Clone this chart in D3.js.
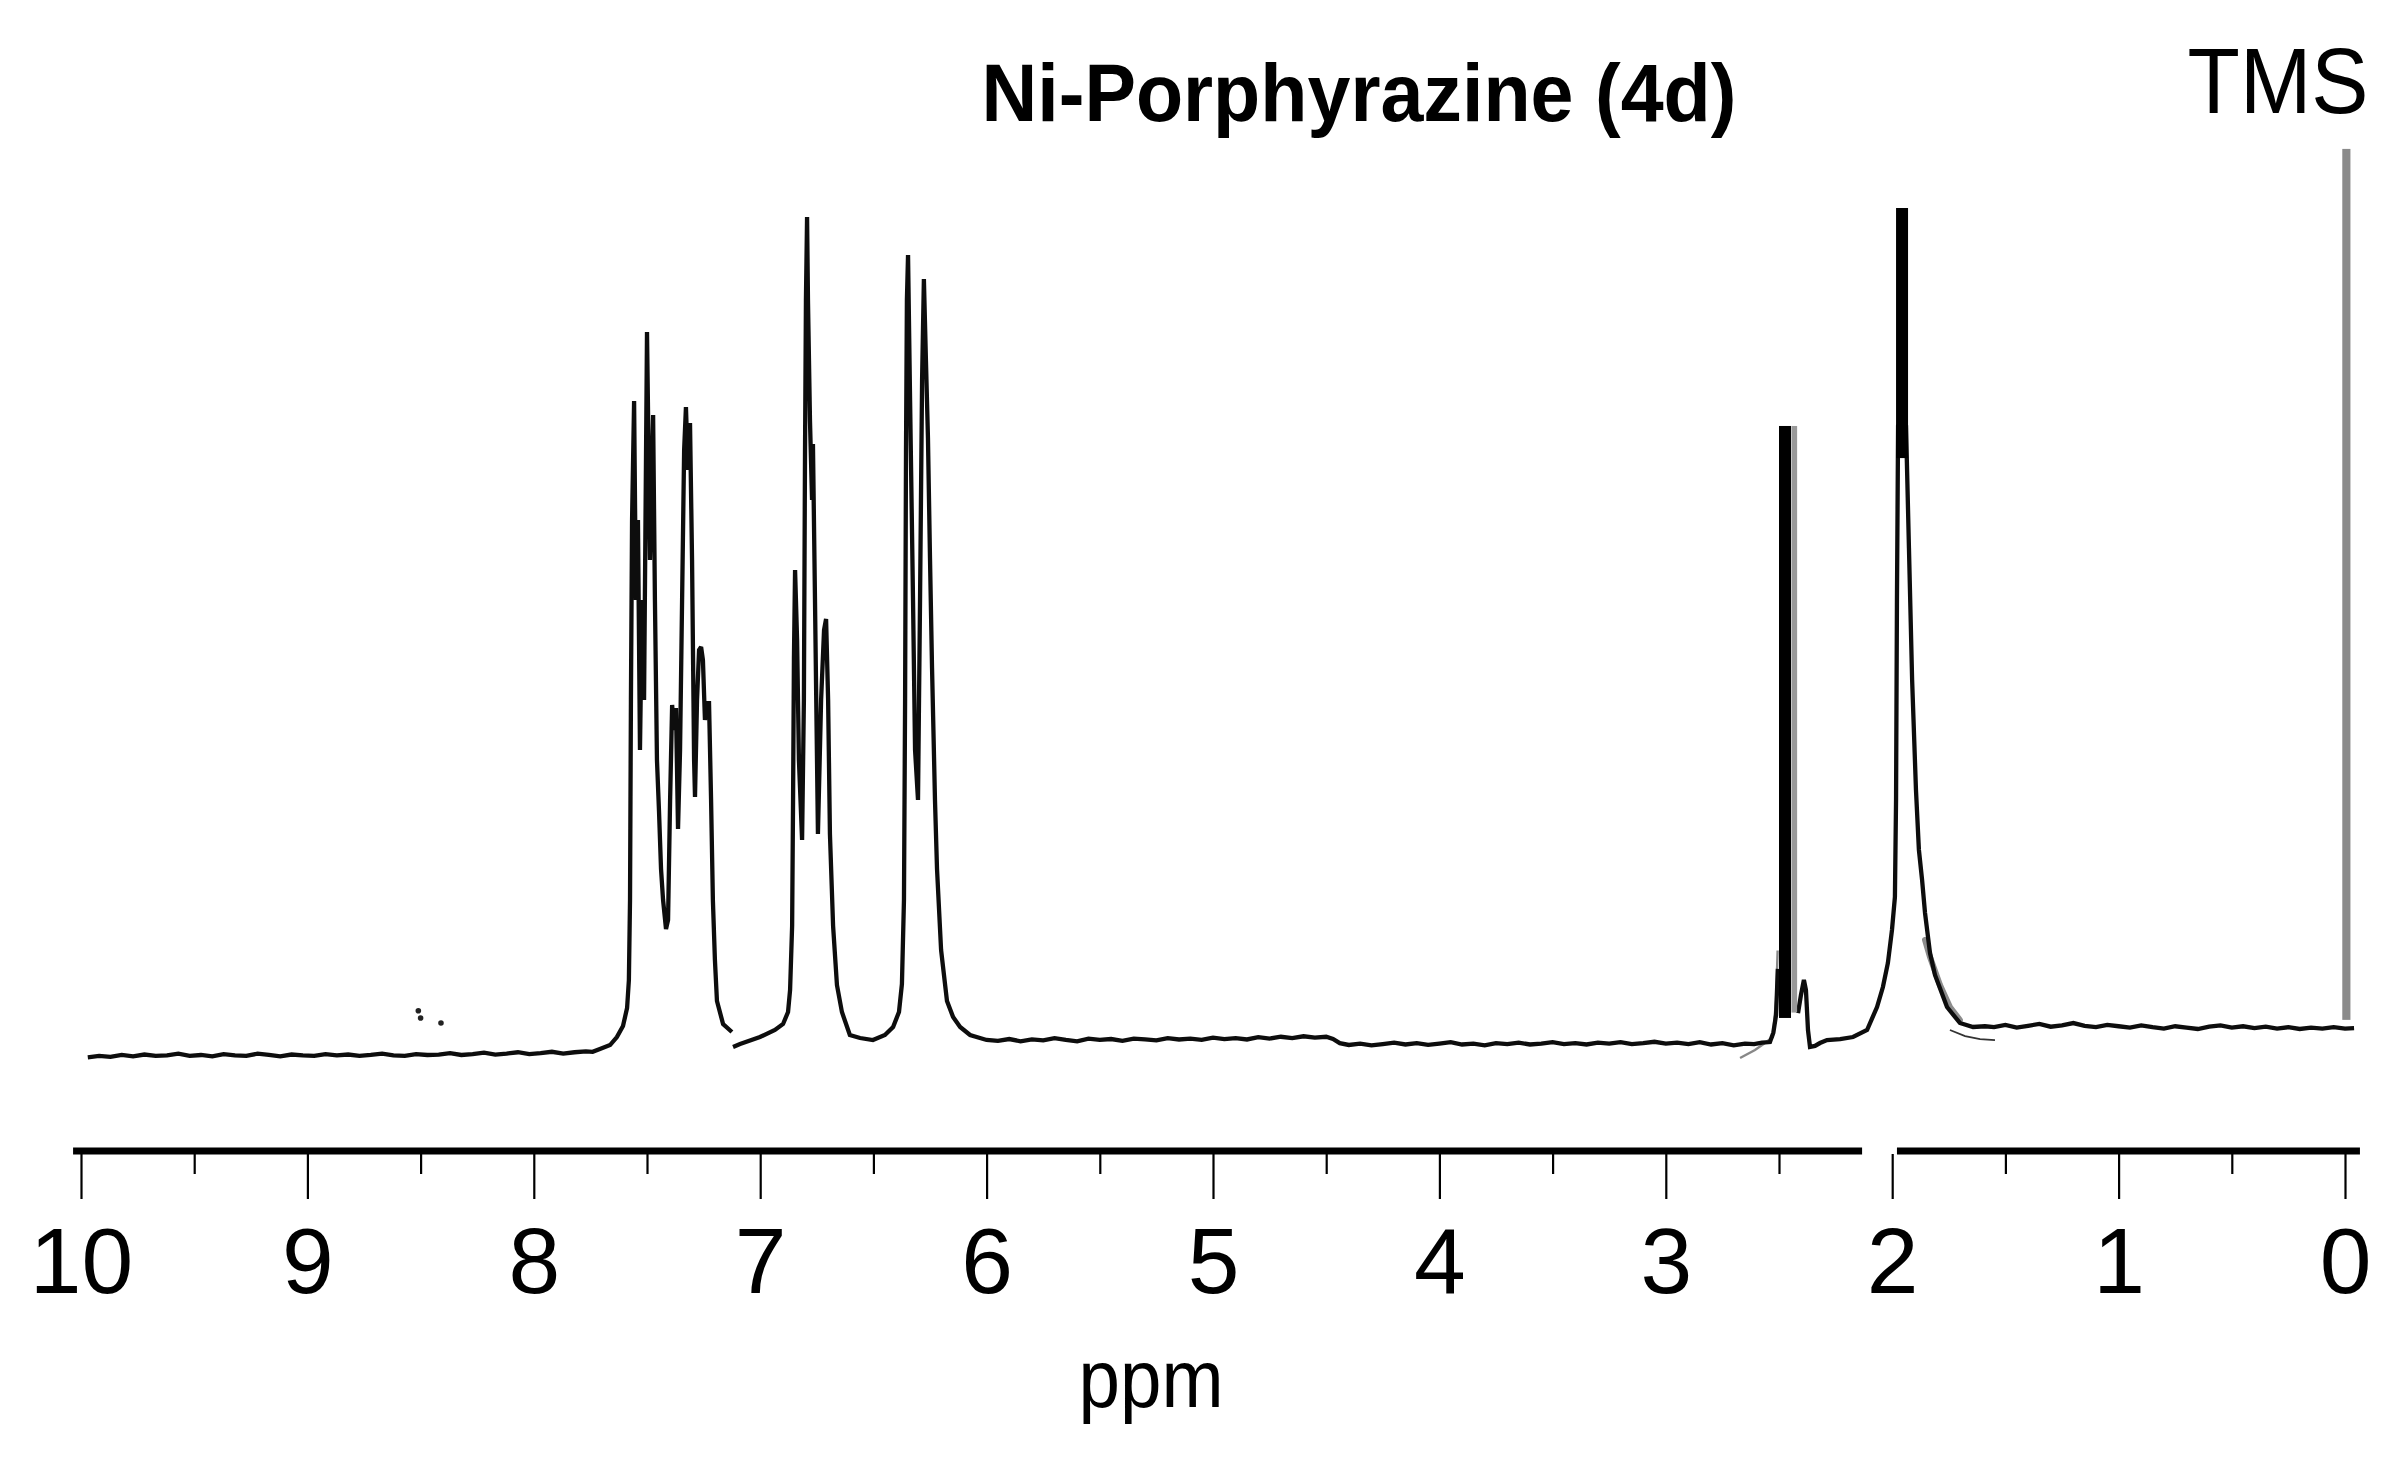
<!DOCTYPE html>
<html><head><meta charset="utf-8">
<script src="https://cdn.jsdelivr.net/npm/d3@7"></script>
<style>html,body{margin:0;padding:0;background:#fff;} svg{display:block;}</style>
</head><body>
<svg id="chart" width="2400" height="1472"></svg>
<script>
// ---------------- DATA (ppm, relative intensity %) ----------------
const titleText = "Ni-Porphyrazine (4d)";
const referenceLabel = "TMS";
const axisLabel = "ppm";
const majorTicks = [10, 9, 8, 7, 6, 5, 4, 3, 2, 1, 0];
const minorTicks = [9.5, 8.5, 7.5, 6.5, 5.5, 4.5, 3.5, 2.5, 1.5, 0.5];
const axisSegments = [[10.035, 2.133], [1.979, -0.066]];

const baselineLow = [
  [9.97,0.30],[9.92,0.45],[9.87,0.35],[9.82,0.55],[9.77,0.40],[9.72,0.60],[9.67,0.45],[9.62,0.50],
  [9.57,0.70],[9.52,0.45],[9.47,0.55],[9.42,0.40],[9.37,0.65],[9.32,0.50],[9.27,0.45],[9.22,0.70],
  [9.17,0.55],[9.12,0.40],[9.07,0.60],[9.02,0.50],[8.97,0.45],[8.92,0.65],[8.87,0.50],[8.82,0.60],
  [8.77,0.45],[8.72,0.55],[8.67,0.70],[8.62,0.50],[8.57,0.45],[8.52,0.65],[8.47,0.55],[8.42,0.60],
  [8.37,0.75],[8.32,0.55],[8.27,0.65],[8.22,0.80],[8.17,0.60],[8.12,0.70],[8.07,0.85],[8.02,0.65],
  [7.97,0.75],[7.92,0.90],[7.87,0.70],[7.82,0.85],[7.77,0.95],[7.74,0.90]
];

const aromaticA = [
  [7.708,1.21],[7.663,1.64],[7.633,2.52],[7.606,3.73],[7.588,5.70],[7.580,8.77],[7.575,17.54],
  [7.571,39.47],[7.566,59.21],[7.557,72.26],[7.549,50.44],[7.540,59.21],[7.531,33.99],[7.522,50.44],
  [7.513,39.47],[7.500,79.82],[7.487,54.82],[7.473,70.72],[7.465,50.44],[7.456,32.89],[7.447,27.30],
  [7.438,20.94],[7.429,17.54],[7.416,14.36],[7.407,15.35],[7.398,28.51],[7.389,38.93],[7.381,36.18],
  [7.372,38.60],[7.363,25.33],[7.354,33.99],[7.345,50.44],[7.336,66.89],[7.328,71.60],[7.319,64.69],
  [7.310,69.85],[7.301,54.82],[7.292,32.89],[7.288,28.84],[7.279,39.47],[7.270,44.96],[7.261,45.29],
  [7.253,43.86],[7.244,37.28],[7.235,39.14],[7.226,39.14],[7.217,28.51],[7.209,17.54],[7.200,10.96],
  [7.191,6.47],[7.164,3.95],[7.125,3.07]
];

const aromaticB = [
  [7.120,1.43],[7.089,1.75],[7.001,2.52],[6.935,3.29],[6.899,3.95],[6.877,5.26],[6.868,7.68],
  [6.859,14.69],[6.855,28.0],[6.851,44.0],[6.846,53.73],[6.837,46.0],[6.829,32.89],[6.815,24.12],
  [6.807,39.47],[6.802,66.89],[6.798,83.33],[6.793,92.43],[6.789,83.33],[6.780,70.0],[6.771,61.40],
  [6.767,67.54],[6.758,50.44],[6.745,24.78],[6.731,39.47],[6.718,47.15],[6.709,48.36],[6.700,39.47],
  [6.692,24.78],[6.678,14.69],[6.661,8.22],[6.639,5.26],[6.604,2.74],[6.559,2.41],[6.502,2.19],
  [6.449,2.74],[6.413,3.62],[6.387,5.26],[6.374,8.33],[6.365,17.54],[6.360,39.47],[6.356,66.89],
  [6.352,83.33],[6.347,88.27],[6.338,72.37],[6.325,50.44],[6.316,33.99],[6.303,28.51],[6.294,50.44],
  [6.285,74.56],[6.277,85.64],[6.268,76.75],[6.259,68.20],[6.250,55.0],[6.241,42.98],[6.228,28.51],
  [6.219,20.94],[6.201,12.06],[6.175,6.47],[6.148,4.71],[6.117,3.62],[6.073,2.74],[6.00,2.20]
];

const midBaseline = [
  [5.95,2.10],[5.90,2.30],[5.85,2.05],[5.80,2.25],[5.75,2.15],[5.70,2.40],[5.65,2.20],[5.60,2.05],
  [5.55,2.35],[5.50,2.20],[5.45,2.30],[5.40,2.10],[5.35,2.35],[5.30,2.25],[5.25,2.15],[5.20,2.40],
  [5.15,2.25],[5.10,2.35],[5.05,2.20],[5.00,2.45],[4.95,2.30],[4.90,2.40],[4.85,2.25],[4.80,2.50],
  [4.75,2.35],[4.70,2.55],[4.65,2.40],[4.60,2.60],[4.55,2.45],[4.50,2.55],[4.47,2.30],[4.44,1.85],
  [4.40,1.65],[4.35,1.80],[4.30,1.60],[4.25,1.75],[4.20,1.90],[4.15,1.70],[4.10,1.85],[4.05,1.65],
  [4.00,1.80],[3.95,1.95],[3.90,1.70],[3.85,1.80],[3.80,1.60],[3.75,1.85],[3.70,1.75],[3.65,1.90],
  [3.60,1.70],[3.55,1.80],[3.50,1.95],[3.45,1.75],[3.40,1.85],[3.35,1.70],[3.30,1.90],[3.25,1.80],
  [3.20,1.95],[3.15,1.75],[3.10,1.85],[3.05,2.00],[3.00,1.80],[2.95,1.90],[2.90,1.75],[2.85,1.95],
  [2.80,1.70],[2.75,1.85],[2.70,1.60],[2.65,1.80],[2.61,1.75],[2.575,1.90],[2.54,1.97],[2.525,3.0],
  [2.513,4.93],[2.505,10.0]
];

const aliphatic = [
  [2.416,5.15],[2.403,7.13],[2.390,8.77],[2.381,7.68],[2.372,3.29],[2.363,1.43],[2.341,1.54],
  [2.319,1.86],[2.288,2.19],[2.230,2.30],[2.173,2.52],[2.111,3.29],[2.067,5.81],[2.041,8.00],
  [2.019,10.64],[2.001,14.25],[1.988,17.87],[1.983,28.51],[1.979,50.44],[1.974,69.52],[1.957,70.18],
  [1.939,69.52],[1.926,56.14],[1.912,41.67],[1.895,29.61],[1.882,23.03],[1.868,19.74],[1.855,16.12],
  [1.833,11.73],[1.811,9.32],[1.758,5.81],[1.701,4.06],[1.643,3.62],[1.59,3.70]
];

const highBaseline = [
  [1.55,3.60],[1.50,3.85],[1.45,3.55],[1.40,3.75],[1.35,3.95],[1.30,3.65],[1.25,3.80],[1.20,4.05],
  [1.15,3.75],[1.10,3.60],[1.05,3.85],[1.00,3.70],[0.95,3.55],[0.90,3.80],[0.85,3.60],[0.80,3.45],
  [0.75,3.70],[0.70,3.55],[0.65,3.40],[0.60,3.65],[0.55,3.80],[0.50,3.55],[0.45,3.70],[0.40,3.50],
  [0.35,3.65],[0.30,3.45],[0.25,3.60],[0.20,3.40],[0.15,3.55],[0.10,3.45],[0.05,3.60],[0.00,3.45],
  [-0.04,3.50]
];

// faint overlaid (grey) trace pieces
const shadowLeft = [[2.672,0.22],[2.606,1.10],[2.562,1.86],[2.527,2.52],[2.513,6.58],[2.506,12.0]];
const shadowShoulder = [[1.855,13.16],[1.833,11.29],[1.789,8.22],[1.745,5.81],[1.701,4.39]];
const shadowFoot = [[1.745,3.29],[1.678,2.63],[1.612,2.30],[1.546,2.19]];

// truncated (clipped) peaks drawn as solid bars
const clippedPeaks = [
  {kind: "main",   from: 2.500, to: 2.447, top: 69.52, bottom: 4.61},
  {kind: "shadow", from: 2.445, to: 2.420, top: 69.52, bottom: 5.20},
  {kind: "main",   from: 1.983, to: 1.930, top: 93.42, bottom: 66.0},
  {kind: "tms",    from: 0.012, to: -0.024, top: 99.9, bottom: 4.4}
];

const specks = [[8.51, 5.4], [8.50, 4.6], [8.41, 4.06]];

// ---------------- DRAWING ----------------
const svg = d3.select("#chart");
const W = 2400, H = 1472;
svg.append("rect").attr("width", W).attr("height", H).attr("fill", "#fff");

const x = d3.scaleLinear().domain([10, 0]).range([81, 2345]);
const y = d3.scaleLinear().domain([0, 100]).range([1060, 148]);

const FONT = "'Liberation Sans', Arial, Helvetica, sans-serif";
const line = d3.line().x(d => x(d[0])).y(d => y(d[1]));

const colors = {main: "#000", shadow: "#999", tms: "#8a8a8a"};

// shadow traces first
svg.append("path").attr("d", line(shadowLeft)).attr("fill", "none")
  .attr("stroke", "#888").attr("stroke-width", 2.4);
svg.append("path").attr("d", line(shadowShoulder)).attr("fill", "none")
  .attr("stroke", "#8c8c8c").attr("stroke-width", 6).attr("stroke-linecap", "round");
svg.append("path").attr("d", line(shadowFoot)).attr("fill", "none")
  .attr("stroke", "#333").attr("stroke-width", 1.8);

// main traces
const segments = [
  baselineLow.concat(aromaticA),
  aromaticB.concat(midBaseline),
  aliphatic.concat(highBaseline)
];
svg.selectAll("path.trace").data(segments).join("path")
  .attr("class", "trace")
  .attr("d", d => line(d))
  .attr("fill", "none")
  .attr("stroke", "#0d0d0d")
  .attr("stroke-width", 4.3)
  .attr("stroke-linejoin", "miter")
  .attr("stroke-miterlimit", 2.5);

// clipped peaks
svg.selectAll("rect.clip").data(clippedPeaks).join("rect")
  .attr("class", "clip")
  .attr("x", d => x(d.from))
  .attr("width", d => x(d.to) - x(d.from))
  .attr("y", d => y(d.top))
  .attr("height", d => y(d.bottom) - y(d.top))
  .attr("fill", d => colors[d.kind]);

// specks
svg.selectAll("circle.speck").data(specks).join("circle")
  .attr("class", "speck")
  .attr("cx", d => x(d[0])).attr("cy", d => y(d[1])).attr("r", 2.8).attr("fill", "#222");

// axis bar
const axisY = 1151;
svg.selectAll("line.axbar").data(axisSegments).join("line")
  .attr("class", "axbar")
  .attr("x1", d => x(d[0])).attr("x2", d => x(d[1]))
  .attr("y1", axisY).attr("y2", axisY)
  .attr("stroke", "#000").attr("stroke-width", 7);

const major = d3.axisBottom(x).tickValues(majorTicks).tickSize(45).tickPadding(28)
  .tickFormat(d3.format("d"));
const gMajor = svg.append("g").attr("transform", "translate(0,1154)").call(major);
gMajor.select(".domain").remove();
gMajor.selectAll(".tick line").attr("stroke", "#000").attr("stroke-width", 2.2);
gMajor.selectAll(".tick text")
  .attr("font-family", FONT).attr("font-size", 93).attr("fill", "#000");

const minor = d3.axisBottom(x).tickValues(minorTicks).tickSize(20).tickFormat("");
const gMinor = svg.append("g").attr("transform", "translate(0,1154)").call(minor);
gMinor.select(".domain").remove();
gMinor.selectAll(".tick line").attr("stroke", "#000").attr("stroke-width", 2.2);

// texts
svg.append("text").text(axisLabel)
  .attr("x", 1151).attr("y", 1407).attr("text-anchor", "middle")
  .attr("font-family", FONT).attr("font-size", 82)
  .attr("textLength", 145).attr("lengthAdjust", "spacingAndGlyphs").attr("fill", "#000");

svg.append("text").text(titleText)
  .attr("x", 1359).attr("y", 121).attr("text-anchor", "middle")
  .attr("font-family", FONT).attr("font-weight", "bold").attr("font-size", 82)
  .attr("textLength", 755).attr("lengthAdjust", "spacingAndGlyphs").attr("fill", "#000");

svg.append("text").text(referenceLabel)
  .attr("x", 2278).attr("y", 113).attr("text-anchor", "middle")
  .attr("font-family", FONT).attr("font-size", 92)
  .attr("textLength", 181).attr("lengthAdjust", "spacingAndGlyphs").attr("fill", "#000");
</script>
</body></html>
